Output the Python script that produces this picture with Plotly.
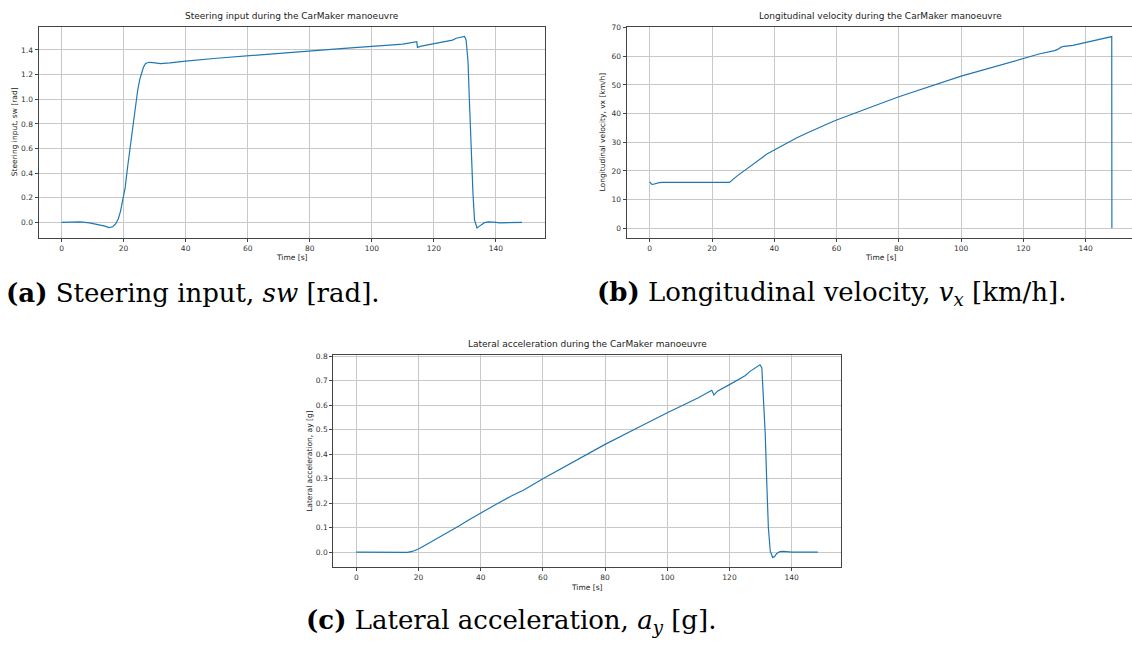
import plotly.graph_objects as go

# ---- Steering wheel angle sw [rad] over time ----
t_sw = [0, 3, 6, 9, 12, 14, 15.3, 16.5, 17.5, 18.3, 19, 19.7, 20.5, 21.3, 22.3,
        23.4, 24.5, 25.2, 25.7, 26.4, 27.1, 28.2, 29.5, 31.9, 35, 40, 50, 60, 70,
        80, 90, 100, 110, 114.5, 114.7, 115.2, 116, 118, 120, 122, 124.5, 126,
        127.2, 128.5, 129.9, 130.4, 131, 131.5, 132, 132.6, 133.1, 133.9, 134.7,
        135.5, 136.3, 137.5, 138.4, 140, 141.2, 144, 148.4]
sw = [0, 0.004, 0.004, -0.003, -0.018, -0.03, -0.042, -0.035, -0.01, 0.03, 0.09,
      0.17, 0.28, 0.45, 0.65, 0.85, 1.065, 1.16, 1.21, 1.26, 1.29, 1.30, 1.297,
      1.29, 1.295, 1.31, 1.333, 1.354, 1.373, 1.392, 1.411, 1.43, 1.448, 1.468,
      1.42, 1.425, 1.432, 1.441, 1.45, 1.456, 1.468, 1.48, 1.495, 1.50, 1.51,
      1.48, 1.31, 0.96, 0.59, 0.24, 0.02, -0.045, -0.03, -0.012, -0.002, 0.004,
      0.004, 0.0, -0.003, -0.002, 0]

# ---- Longitudinal velocity vx [km/h] over time ----
t_vx = [0, 0.3, 0.7, 1.2, 2, 3, 4, 10, 20, 25.6, 28, 31.1, 33, 35.4, 37.5, 40,
        43, 47.1, 50, 53.5, 57, 60, 65, 69.6, 75, 80, 85, 89.9, 94, 96.8, 98,
        100, 106, 110, 114.4, 120, 125, 130, 131, 132.1, 133, 135.9, 140, 144,
        148.35, 148.4]
vx = [16.2, 15.6, 15.3, 15.35, 15.7, 15.9, 16.0, 16.0, 16.0, 16.0, 18.2, 20.7,
      22.3, 24.2, 25.8, 27.3, 29.2, 31.5, 33.0, 34.8, 36.4, 37.8, 39.9, 41.8,
      43.9, 45.9, 47.7, 49.4, 50.8, 51.9, 52.3, 53.1, 54.9, 56.2, 57.5, 59.4,
      60.8, 62.0, 62.4, 63.2, 63.5, 63.8, 64.8, 65.8, 66.9, 0]

# ---- Lateral acceleration ay [g] over time ----
t_ay = [0, 5, 10, 15, 16.5, 18, 19, 20, 22, 25, 27.5, 30, 33, 36, 40, 45, 50, 54,
        60, 70, 80, 90, 98.2, 100, 105, 110, 114.3, 114.6, 115, 115.5, 116.1,
        120, 123.4, 125, 126.6, 128, 129.8, 130.4, 130.9, 131.5, 132, 132.5,
        133.1, 133.9, 134.5, 135.2, 136.2, 137.3, 140, 144, 148.4]
ay = [0, 0, 0, -0.001, -0.001, 0.003, 0.007, 0.013, 0.027, 0.048, 0.068, 0.086,
      0.107, 0.13, 0.16, 0.196, 0.23, 0.255, 0.30, 0.37, 0.44, 0.505, 0.555,
      0.569, 0.60, 0.63, 0.661, 0.655, 0.642, 0.648, 0.657, 0.684, 0.707, 0.72,
      0.738, 0.75, 0.765, 0.752, 0.643, 0.48, 0.277, 0.10, 0.005, -0.022,
      -0.018, -0.005, 0.002, 0.003, 0, 0, 0]

x_ticks = [0, 20, 40, 60, 80, 100, 120, 140]
titles = ["Steering input during the CarMaker manoeuvre",
          "Longitudinal velocity during the CarMaker manoeuvre",
          "Lateral acceleration during the CarMaker manoeuvre"]
y_labels = ["Steering input, sw [rad]",
            "Longitudinal velocity, vx [km/h]",
            "Lateral acceleration, ay [g]"]
captions = ["<b>(a)</b> Steering input, <i>sw</i> [rad].",
            "<b>(b)</b> Longitudinal velocity, <i>v</i><sub><i>x</i></sub> [km/h].",
            "<b>(c)</b> Lateral acceleration, <i>a</i><sub><i>y</i></sub> [g]."]

W, H = 1132, 648
LINE = "#1f77b4"
SPINE = "#444444"
GRID = "#c8c8c8"
SANS = "DejaVu Sans"
SERIF = "DejaVu Serif"


def padded(lo, hi, frac=0.05):
    span = hi - lo
    return [lo - frac * span, hi + frac * span]


# Panel boxes in pixels: left, right, top, bottom
boxes = [(38.5, 545.0, 23.0, 235.0),
         (626.6, 1135.0, 23.1, 235.3),
         (333.2, 840.9, 353.3, 566.7)]
series = [(t_sw, sw), (t_vx, vx), (t_ay, ay)]
ytick_sets = [([0.0, 0.2, 0.4, 0.6, 0.8, 1.0, 1.2, 1.4], ".1f"),
              ([0, 10, 20, 30, 40, 50, 60, 70], "d"),
              ([0.0, 0.1, 0.2, 0.3, 0.4, 0.5, 0.6, 0.7, 0.8], ".1f")]

fig = go.Figure()
annotations = []
layout = {}
for i, ((t, y), (l, r, top, bot)) in enumerate(zip(series, boxes)):
    n = "" if i == 0 else str(i + 1)
    xr = padded(min(t), max(t))
    yr = padded(min(y), max(y))
    # clip a panel that runs past the right edge of the page
    r_vis = min(r, W)
    xr_vis = [xr[0], xr[0] + (xr[1] - xr[0]) * (r_vis - l) / (r - l)]
    fig.add_trace(go.Scatter(x=t, y=y, mode="lines",
                             line=dict(color=LINE, width=1.2),
                             xaxis="x" + n, yaxis="y" + n, showlegend=False,
                             hoverinfo="skip"))
    tickfont = dict(family=SANS, size=7.5, color="#333333")
    layout["xaxis" + n] = dict(
        domain=[l / W, r_vis / W], range=xr_vis, anchor="y" + n,
        tickmode="array", tickvals=x_ticks, ticktext=[str(v) for v in x_ticks],
        showgrid=True, gridcolor=GRID, gridwidth=1, zeroline=False,
        showline=True, linecolor=SPINE, linewidth=1, mirror=True,
        ticks="outside", ticklen=3, tickwidth=1, tickcolor=SPINE,
        tickfont=tickfont)
    yt, fmt = ytick_sets[i]
    layout["yaxis" + n] = dict(
        domain=[1 - bot / H, 1 - top / H], range=yr, anchor="x" + n,
        tickmode="array", tickvals=yt,
        ticktext=[format(v, fmt) for v in yt],
        showgrid=True, gridcolor=GRID, gridwidth=1, zeroline=False,
        showline=True, linecolor=SPINE, linewidth=1, mirror=(r <= W),
        ticks="outside", ticklen=3, tickwidth=1, tickcolor=SPINE,
        tickfont=tickfont)
    cx = (l + r) / 2
    annotations.append(dict(text=titles[i], x=cx / W, y=1 - (top - 4) / H,
                            xref="paper", yref="paper", xanchor="center",
                            yanchor="bottom", showarrow=False,
                            font=dict(family=SANS, size=9, color="#222222")))
    annotations.append(dict(text="Time [s]", x=cx / W, y=1 - (bot + 20) / H,
                            xref="paper", yref="paper", xanchor="center",
                            yanchor="middle", showarrow=False,
                            font=dict(family=SANS, size=7.5, color="#222222")))
    annotations.append(dict(text=y_labels[i], x=(l - 24.5) / W,
                            y=1 - ((top + bot) / 2) / H, textangle=-90,
                            xref="paper", yref="paper", xanchor="center",
                            yanchor="middle", showarrow=False,
                            font=dict(family=SANS, size=7.5, color="#222222")))

# Sub-figure captions
cap_pos = [(193, 291), (832, 291), (511, 621)]
for text, (cx, cy) in zip(captions, cap_pos):
    annotations.append(dict(text=text, x=cx / W, y=1 - cy / H, xref="paper",
                            yref="paper", xanchor="center", yanchor="middle",
                            showarrow=False,
                            font=dict(family=SERIF, size=26,
                                      color="#000000")))

fig.update_layout(width=W, height=H, margin=dict(l=0, r=0, t=0, b=0),
                  paper_bgcolor="white", plot_bgcolor="white",
                  annotations=annotations, **layout)
fig.write_html("out.html", config={"displayModeBar": False})
